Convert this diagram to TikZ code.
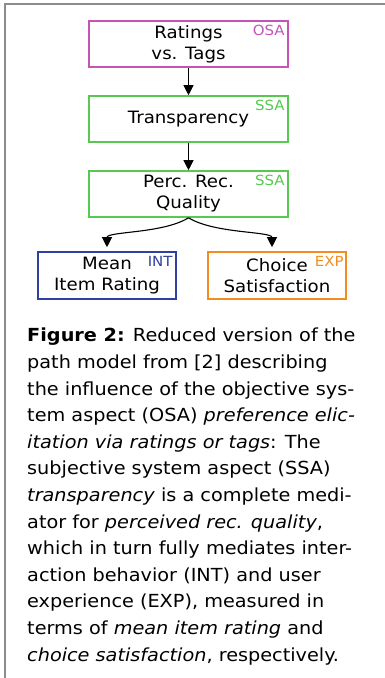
\documentclass[tikz,border=0pt]{standalone}
\usepackage{fontspec}
\setmainfont{DejaVu Sans}[FakeStretch=1.07]
\usetikzlibrary{positioning,arrows.meta}
\definecolor{osacol}{RGB}{196,84,184}
\definecolor{ssacol}{RGB}{88,200,80}
\definecolor{intcol}{RGB}{48,64,160}
\definecolor{expcol}{RGB}{244,140,32}
\definecolor{framecol}{RGB}{140,140,140}

\begin{document}
\begin{tikzpicture}[
    x=1pt, y=1pt,
    >={Triangle[length=10pt,width=10pt]},
    conn/.style={->, line width=1.1pt},
  ]

\tikzstyle{box} = [rectangle, draw, line width=1.6pt, minimum width=199pt, minimum height=46pt, align=center, inner sep=0pt, font=\fontsize{17}{21}\selectfont]

\tikzstyle{small} = [box, minimum width=138pt, minimum height=47pt]

\tikzstyle{tag} = [inner sep=0pt, anchor=north east, font=\fontsize{14}{16}\selectfont]

    \useasboundingbox (0,0) rectangle (385,-678);
    \draw [framecol, line width=2pt] (5,-678) -- (5,-4) -- (385,-4);

    \node [box, draw=osacol] (rvt) at (188.5,-44) {Ratings\\vs. Tags};
    \node [box, draw=ssacol] (transp) at (188.5,-119) {Transparency};
    \node [box, draw=ssacol] (prq) at (188.5,-194) {Perc. Rec.\\Quality};
    \node [small, draw=intcol] (mir) at (107,-275.5) {Mean\\Item Rating};
    \node [small, draw=expcol] (cs) at (277,-275.5) {Choice\\Satisfaction};

    \node [tag, text=osacol] (osa) at ([xshift=-4pt,yshift=-5pt]rvt.north east) {OSA};
    \node [tag, text=ssacol] (ssa1) at ([xshift=-4pt,yshift=-5pt]transp.north east) {SSA};
    \node [tag, text=ssacol] (ssa2) at ([xshift=-4pt,yshift=-5pt]prq.north east) {SSA};
    \node [tag, text=intcol] (int) at ([xshift=-4pt,yshift=-5pt]mir.north east) {INT};
    \node [tag, text=expcol] (exp) at ([xshift=-3pt,yshift=-5pt]cs.north east) {EXP};

    \draw [conn] (rvt) -- (transp);
    \draw [conn] (transp) -- (prq);
    \draw [conn, shorten >=4pt] (prq.south) .. controls +(-26,-16) and +(0,20) .. (mir.north);
    \draw [conn, shorten >=4pt] (prq.south) .. controls +(26,-16) and +(0,20) .. ([xshift=-5pt]cs.north);

    \node [anchor=north west, align=left, inner sep=0pt, font=\fontsize{18}{26.6}\selectfont, text=black] (cap) at (27,-328) {%
      \textbf{Figure 2:} Reduced version of the\\
      path model from [2] describing\\
      the influence of the objective sys-\\
      tem aspect (OSA) \textit{preference elic-}\\
      \textit{itation via ratings or tags}: The\\
      subjective system aspect (SSA)\\
      \textit{transparency} is a complete medi-\\
      ator for \textit{perceived rec. quality},\\
      which in turn fully mediates inter-\\
      action behavior (INT) and user\\
      experience (EXP), measured in\\
      terms of \textit{mean item rating} and\\
      \textit{choice satisfaction}, respectively.};
\end{tikzpicture}
\end{document}
